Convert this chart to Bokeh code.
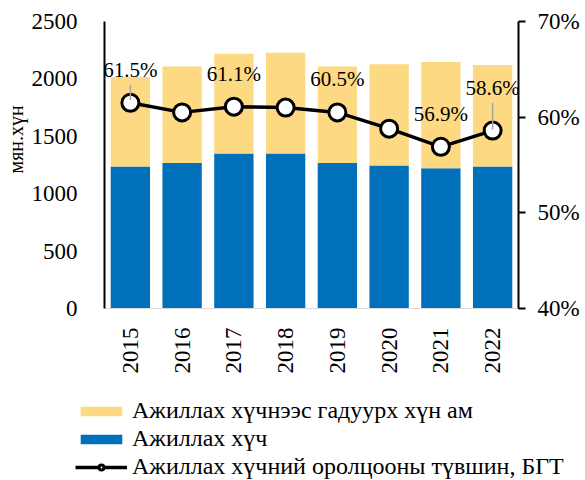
from bokeh.plotting import figure
from bokeh.layouts import column
from bokeh.models import (ColumnDataSource, FactorRange, Range1d, LinearAxis, FixedTicker,
                          NumeralTickFormatter, Legend, LegendItem, Title)
from bokeh.core.properties import value
from bokeh.embed import file_html
from bokeh.resources import INLINE

years = ["2015", "2016", "2017", "2018", "2019", "2020", "2021", "2022"]
labor_force = [1238, 1268, 1350, 1351, 1267, 1246, 1221, 1238]
outside_lf = [778, 839, 868, 876, 840, 882, 927, 884]
participation = [0.615, 0.605, 0.611, 0.610, 0.605, 0.588, 0.569, 0.586]
left_ticks = [0, 500, 1000, 1500, 2000, 2500]
right_ticks = [0.40, 0.50, 0.60, 0.70]
labelled_years = ["2015", "2017", "2019", "2021", "2022"]
leader_years = ["2015", "2022"]

name_out = "Ажиллах хүчнээс гадуурх хүн ам"
name_lf = "Ажиллах хүч"
name_rate = "Ажиллах хүчний оролцооны түвшин, БГТ"
unit_label = "мян.хүн"

BLUE = "#0070BA"
GOLD = "#FDD983"
FONT = "Liberation Serif"

src = ColumnDataSource(dict(year=years, lf=labor_force, out=outside_lf, rate=participation))

p = figure(x_range=FactorRange(*years, range_padding=0), y_range=Range1d(0, 2500),
           width=585, height=385, output_backend="svg", toolbar_location=None,
           min_border_left=102, min_border_right=67, min_border_top=21, min_border_bottom=77)
p.frame_align = False
p.extra_y_ranges = {"pct": Range1d(0.40, 0.70)}
p.outline_line_color = None
p.xgrid.grid_line_color = None
p.ygrid.grid_line_color = None

bars = p.vbar_stack(["lf", "out"], x="year", width=0.76, source=src,
                    color=[BLUE, GOLD], line_color=None)

line = p.line("year", "rate", source=src, y_range_name="pct", line_color="black", line_width=3.5)
dots = p.scatter("year", "rate", source=src, y_range_name="pct", size=17,
                 fill_color="white", line_color="black", line_width=3)

# leader lines
ld = dict(year=[], y0=[], y1=[])
for y, r in zip(years, participation):
    if y in leader_years:
        ld["year"].append(y)
        if y == "2015":
            ld["y0"].append(r + 0.003); ld["y1"].append(r + 0.019)
        else:
            ld["y0"].append(r + 0.001); ld["y1"].append(r + 0.029)
p.segment(x0="year", y0="y0", x1="year", y1="y1", source=ColumnDataSource(ld),
          y_range_name="pct", line_color="#A6A6A6", line_width=1.5)

# data labels
lab = dict(year=[], rate=[], txt=[], off=[])
for y, r in zip(years, participation):
    if y in labelled_years:
        lab["year"].append(y); lab["rate"].append(r)
        lab["txt"].append(f"{r*100:.1f}%")
        lab["off"].append(-43 if y == "2022" else -33)
p.text("year", "rate", text="txt", source=ColumnDataSource(lab), y_range_name="pct",
       y_offset="off", text_align="center", text_baseline="middle",
       text_font=value(FONT), text_font_size="21px", text_color="black")

# axes
ax = p.xaxis[0]
ax.axis_line_color = "#D9D9D9"
ax.axis_line_width = 1
ax.major_tick_line_color = None
ax.minor_tick_line_color = None
ax.major_label_orientation = 3.14159265 / 2
ax.major_label_standoff = 13
ax.major_label_text_font = FONT
ax.major_label_text_font_size = "23px"
ax.major_label_text_color = "black"

ay = p.yaxis[0]
ay.ticker = FixedTicker(ticks=left_ticks)
ay.axis_line_color = "black"
ay.axis_line_width = 2
ay.major_tick_line_color = None
ay.minor_tick_line_color = None
ay.major_label_standoff = 21
ay.major_label_text_font = FONT
ay.major_label_text_font_size = "23px"
ay.major_label_text_color = "black"

ytitle = Title(text=unit_label, align="left", offset=135, standoff=4,
               text_font=FONT, text_font_size="20px", text_font_style="normal",
               text_color="black")
p.add_layout(ytitle, "left")

ar = LinearAxis(y_range_name="pct", ticker=FixedTicker(ticks=right_ticks),
                formatter=NumeralTickFormatter(format="0%"))
ar.axis_line_color = "black"
ar.axis_line_width = 2
ar.major_tick_line_color = "black"
ar.major_tick_line_width = 2
ar.major_tick_in = 0
ar.major_tick_out = 7
ar.minor_tick_line_color = None
ar.major_label_standoff = 12
ar.major_label_text_font = FONT
ar.major_label_text_font_size = "23px"
ar.major_label_text_color = "black"
p.add_layout(ar, "right")

# legend strip below the chart; its renderers reuse the chart data and styles but
# are hidden, so only the legend entries are drawn
lg = figure(width=585, height=95, output_backend="svg", toolbar_location=None,
            x_range=FactorRange(*years), y_range=Range1d(-2, -1),
            x_axis_location=None, y_axis_location=None,
            min_border_left=0, min_border_right=0, min_border_top=0, min_border_bottom=0)
lg.frame_align = False
lg.grid.visible = False
lg.outline_line_color = None
r_out = lg.vbar(x="year", top="out", width=0.5, source=src, color=GOLD, line_color=None)
r_lf = lg.vbar(x="year", top="lf", width=0.5, source=src, color=BLUE, line_color=None)
r_line = lg.line("year", "rate", source=src, line_color="black", line_width=3.5)
r_dot = lg.scatter("year", "rate", source=src, size=15, fill_color="white",
                   line_color="black", line_width=3)
for r in (r_out, r_lf, r_line, r_dot):
    r.visible = False

legend = Legend(items=[LegendItem(label=name_out, renderers=[r_out]),
                       LegendItem(label=name_lf, renderers=[r_lf]),
                       LegendItem(label=name_rate, renderers=[r_line, r_dot])],
                location=(75, 0), orientation="vertical",
                glyph_width=52, glyph_height=12, label_height=12, spacing=1,
                label_standoff=5, padding=0, margin=0,
                border_line_color=None, background_fill_alpha=0,
                label_text_font=FONT, label_text_font_size="24px", label_text_color="black")
lg.add_layout(legend, "center")

layout = column(p, lg, spacing=0)
open("out.html", "w").write(file_html(layout, INLINE))
